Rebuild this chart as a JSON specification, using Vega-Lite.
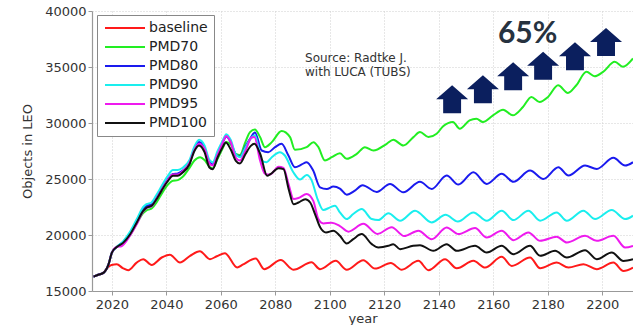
{
  "$schema": "https://vega.github.io/schema/vega-lite/v6.json",
  "width": 541,
  "height": 280,
  "autosize": {"type": "none"},
  "padding": {"left": 92, "top": 11, "right": 0, "bottom": 34},
  "background": "white",
  "config": {
    "view": {"stroke": null},
    "font": "DejaVu Sans",
    "axis": {
      "labelFont": "DejaVu Sans", "labelFontSize": 13, "labelColor": "#333",
      "titleFont": "DejaVu Sans", "titleFontSize": 13, "titleFontWeight": "normal", "titleColor": "#333",
      "domainColor": "#999", "domainWidth": 1.2, "tickColor": "#999", "tickSize": 4,
      "gridColor": "#cfcfcf", "gridDash": [1, 2], "gridWidth": 1
    }
  },
  "datasets": {
    "series": [
      {"s":"baseline","year":2013.3,"v":16280},{"s":"baseline","year":2015.0,"v":16450},{"s":"baseline","year":2017.0,"v":16640},{"s":"baseline","year":2018.3,"v":17050},{"s":"baseline","year":2019.9,"v":17330},{"s":"baseline","year":2021.8,"v":17380},{"s":"baseline","year":2024.0,"v":17050},{"s":"baseline","year":2026.0,"v":16860},{"s":"baseline","year":2029.1,"v":17540},{"s":"baseline","year":2031.5,"v":17840},{"s":"baseline","year":2034.6,"v":17330},{"s":"baseline","year":2038.3,"v":17990},{"s":"baseline","year":2041.3,"v":18230},{"s":"baseline","year":2045.0,"v":17540},{"s":"baseline","year":2048.7,"v":18140},{"s":"baseline","year":2052.3,"v":18550},{"s":"baseline","year":2056.0,"v":17840},{"s":"baseline","year":2058.5,"v":18100},{"s":"baseline","year":2061.5,"v":18380},{"s":"baseline","year":2066.0,"v":17100},{"s":"baseline","year":2068.0,"v":17350},{"s":"baseline","year":2072.8,"v":17900},{"s":"baseline","year":2075.9,"v":16950},{"s":"baseline","year":2082.0,"v":17760},{"s":"baseline","year":2086.6,"v":16900},{"s":"baseline","year":2093.3,"v":17560},{"s":"baseline","year":2096.4,"v":16950},{"s":"baseline","year":2102.2,"v":17690},{"s":"baseline","year":2106.2,"v":16900},{"s":"baseline","year":2112.3,"v":17750},{"s":"baseline","year":2116.6,"v":17000},{"s":"baseline","year":2122.4,"v":17500},{"s":"baseline","year":2126.4,"v":16900},{"s":"baseline","year":2132.5,"v":17690},{"s":"baseline","year":2136.2,"v":16860},{"s":"baseline","year":2142.3,"v":17840},{"s":"baseline","year":2146.6,"v":17030},{"s":"baseline","year":2152.7,"v":17690},{"s":"baseline","year":2157.0,"v":17090},{"s":"baseline","year":2163.1,"v":18050},{"s":"baseline","year":2166.8,"v":17240},{"s":"baseline","year":2173.5,"v":17990},{"s":"baseline","year":2177.2,"v":17030},{"s":"baseline","year":2183.3,"v":17540},{"s":"baseline","year":2187.6,"v":17090},{"s":"baseline","year":2193.1,"v":17390},{"s":"baseline","year":2198.0,"v":16950},{"s":"baseline","year":2204.1,"v":17540},{"s":"baseline","year":2207.8,"v":16790},{"s":"baseline","year":2211.3,"v":17090},

      {"s":"PMD70","year":2013.3,"v":16280},{"s":"PMD70","year":2015.0,"v":16450},{"s":"PMD70","year":2017.0,"v":16640},{"s":"PMD70","year":2018.8,"v":17400},{"s":"PMD70","year":2020.0,"v":18430},{"s":"PMD70","year":2021.8,"v":18930},{"s":"PMD70","year":2024.2,"v":19300},{"s":"PMD70","year":2026.7,"v":20000},{"s":"PMD70","year":2029.1,"v":21000},{"s":"PMD70","year":2031.5,"v":21950},{"s":"PMD70","year":2032.7,"v":22200},{"s":"PMD70","year":2034.5,"v":22350},{"s":"PMD70","year":2036.4,"v":22900},{"s":"PMD70","year":2038.2,"v":23650},{"s":"PMD70","year":2040.6,"v":24500},{"s":"PMD70","year":2042.4,"v":24850},{"s":"PMD70","year":2044.2,"v":24900},{"s":"PMD70","year":2046.0,"v":25200},{"s":"PMD70","year":2048.5,"v":26000},{"s":"PMD70","year":2050.3,"v":26650},{"s":"PMD70","year":2052.4,"v":26950},{"s":"PMD70","year":2054.0,"v":26700},{"s":"PMD70","year":2055.8,"v":26100},{"s":"PMD70","year":2057.0,"v":25950},{"s":"PMD70","year":2058.8,"v":26800},{"s":"PMD70","year":2060.6,"v":27700},{"s":"PMD70","year":2062.0,"v":28300},{"s":"PMD70","year":2063.6,"v":28100},{"s":"PMD70","year":2065.5,"v":27250},{"s":"PMD70","year":2067.0,"v":27150},{"s":"PMD70","year":2069.0,"v":28300},{"s":"PMD70","year":2070.7,"v":29190},{"s":"PMD70","year":2072.5,"v":29420},{"s":"PMD70","year":2074.4,"v":28740},{"s":"PMD70","year":2076.2,"v":27844},{"s":"PMD70","year":2078.7,"v":28292},{"s":"PMD70","year":2082.3,"v":29278},{"s":"PMD70","year":2085.4,"v":28740},{"s":"PMD70","year":2087.2,"v":27605},{"s":"PMD70","year":2091.5,"v":27844},{"s":"PMD70","year":2094.0,"v":28292},{"s":"PMD70","year":2095.8,"v":27844},{"s":"PMD70","year":2098.2,"v":26650},{"s":"PMD70","year":2100.7,"v":26948},{"s":"PMD70","year":2103.7,"v":27307},{"s":"PMD70","year":2106.2,"v":26799},{"s":"PMD70","year":2109.9,"v":27247},{"s":"PMD70","year":2112.9,"v":27844},{"s":"PMD70","year":2116.0,"v":27545},{"s":"PMD70","year":2120.9,"v":28143},{"s":"PMD70","year":2123.3,"v":28501},{"s":"PMD70","year":2127.0,"v":27994},{"s":"PMD70","year":2130.7,"v":28740},{"s":"PMD70","year":2133.1,"v":29188},{"s":"PMD70","year":2136.2,"v":28740},{"s":"PMD70","year":2139.2,"v":29039},{"s":"PMD70","year":2141.6,"v":29700},{"s":"PMD70","year":2145.2,"v":30084},{"s":"PMD70","year":2147.7,"v":29487},{"s":"PMD70","year":2151.3,"v":30233},{"s":"PMD70","year":2153.8,"v":30383},{"s":"PMD70","year":2156.2,"v":30084},{"s":"PMD70","year":2159.9,"v":30681},{"s":"PMD70","year":2163.6,"v":31189},{"s":"PMD70","year":2167.2,"v":30681},{"s":"PMD70","year":2170.9,"v":31428},{"s":"PMD70","year":2174.0,"v":32324},{"s":"PMD70","year":2177.0,"v":31876},{"s":"PMD70","year":2180.1,"v":32324},{"s":"PMD70","year":2183.8,"v":33370},{"s":"PMD70","year":2187.4,"v":32683},{"s":"PMD70","year":2190.5,"v":33370},{"s":"PMD70","year":2194.2,"v":34565},{"s":"PMD70","year":2197.2,"v":34176},{"s":"PMD70","year":2200.3,"v":34565},{"s":"PMD70","year":2204.6,"v":35460},{"s":"PMD70","year":2207.6,"v":35013},{"s":"PMD70","year":2211.3,"v":35759},

      {"s":"PMD80","year":2013.3,"v":16280},{"s":"PMD80","year":2015.0,"v":16450},{"s":"PMD80","year":2017.0,"v":16640},{"s":"PMD80","year":2018.8,"v":17400},{"s":"PMD80","year":2020.0,"v":18430},{"s":"PMD80","year":2021.8,"v":18930},{"s":"PMD80","year":2024.2,"v":19400},{"s":"PMD80","year":2026.7,"v":20150},{"s":"PMD80","year":2029.1,"v":21250},{"s":"PMD80","year":2031.5,"v":22350},{"s":"PMD80","year":2032.7,"v":22600},{"s":"PMD80","year":2034.5,"v":22700},{"s":"PMD80","year":2036.4,"v":23400},{"s":"PMD80","year":2038.2,"v":24100},{"s":"PMD80","year":2040.6,"v":25000},{"s":"PMD80","year":2042.4,"v":25450},{"s":"PMD80","year":2044.2,"v":25500},{"s":"PMD80","year":2046.0,"v":25750},{"s":"PMD80","year":2048.5,"v":26450},{"s":"PMD80","year":2050.3,"v":27700},{"s":"PMD80","year":2052.0,"v":28300},{"s":"PMD80","year":2054.0,"v":27800},{"s":"PMD80","year":2055.8,"v":26500},{"s":"PMD80","year":2057.0,"v":26300},{"s":"PMD80","year":2058.8,"v":27300},{"s":"PMD80","year":2060.6,"v":28200},{"s":"PMD80","year":2062.0,"v":28800},{"s":"PMD80","year":2063.6,"v":28300},{"s":"PMD80","year":2065.5,"v":27200},{"s":"PMD80","year":2067.0,"v":27000},{"s":"PMD80","year":2069.0,"v":27900},{"s":"PMD80","year":2071.0,"v":28700},{"s":"PMD80","year":2072.5,"v":29150},{"s":"PMD80","year":2075.0,"v":27545},{"s":"PMD80","year":2077.4,"v":27396},{"s":"PMD80","year":2079.9,"v":27844},{"s":"PMD80","year":2082.3,"v":28143},{"s":"PMD80","year":2084.8,"v":27097},{"s":"PMD80","year":2087.2,"v":26052},{"s":"PMD80","year":2089.7,"v":26300},{"s":"PMD80","year":2091.5,"v":26500},{"s":"PMD80","year":2093.9,"v":25754},{"s":"PMD80","year":2096.4,"v":24260},{"s":"PMD80","year":2098.9,"v":24111},{"s":"PMD80","year":2101.3,"v":24320},{"s":"PMD80","year":2103.7,"v":24150},{"s":"PMD80","year":2106.2,"v":23603},{"s":"PMD80","year":2109.2,"v":23962},{"s":"PMD80","year":2112.0,"v":24450},{"s":"PMD80","year":2117.2,"v":23850},{"s":"PMD80","year":2122.1,"v":24562},{"s":"PMD80","year":2127.0,"v":23810},{"s":"PMD80","year":2133.1,"v":24750},{"s":"PMD80","year":2137.4,"v":24110},{"s":"PMD80","year":2142.9,"v":25306},{"s":"PMD80","year":2147.2,"v":24500},{"s":"PMD80","year":2152.7,"v":25600},{"s":"PMD80","year":2157.6,"v":24562},{"s":"PMD80","year":2163.1,"v":25460},{"s":"PMD80","year":2167.4,"v":24750},{"s":"PMD80","year":2173.5,"v":25754},{"s":"PMD80","year":2178.4,"v":25007},{"s":"PMD80","year":2183.9,"v":26052},{"s":"PMD80","year":2187.6,"v":25306},{"s":"PMD80","year":2193.7,"v":26202},{"s":"PMD80","year":2198.0,"v":25903},{"s":"PMD80","year":2204.1,"v":26889},{"s":"PMD80","year":2208.4,"v":26202},{"s":"PMD80","year":2211.3,"v":26500},

      {"s":"PMD90","year":2013.3,"v":16280},{"s":"PMD90","year":2015.0,"v":16450},{"s":"PMD90","year":2017.0,"v":16640},{"s":"PMD90","year":2018.8,"v":17400},{"s":"PMD90","year":2020.0,"v":18430},{"s":"PMD90","year":2021.8,"v":18930},{"s":"PMD90","year":2024.2,"v":19450},{"s":"PMD90","year":2026.7,"v":20300},{"s":"PMD90","year":2029.1,"v":21400},{"s":"PMD90","year":2031.5,"v":22500},{"s":"PMD90","year":2032.7,"v":22750},{"s":"PMD90","year":2034.5,"v":22900},{"s":"PMD90","year":2036.4,"v":23600},{"s":"PMD90","year":2038.2,"v":24350},{"s":"PMD90","year":2040.6,"v":25300},{"s":"PMD90","year":2042.4,"v":25800},{"s":"PMD90","year":2044.2,"v":25800},{"s":"PMD90","year":2046.0,"v":26000},{"s":"PMD90","year":2048.5,"v":26700},{"s":"PMD90","year":2050.3,"v":27900},{"s":"PMD90","year":2052.0,"v":28500},{"s":"PMD90","year":2054.0,"v":28000},{"s":"PMD90","year":2055.8,"v":26700},{"s":"PMD90","year":2057.0,"v":26500},{"s":"PMD90","year":2058.8,"v":27500},{"s":"PMD90","year":2060.6,"v":28400},{"s":"PMD90","year":2062.0,"v":29000},{"s":"PMD90","year":2063.6,"v":28500},{"s":"PMD90","year":2065.5,"v":27200},{"s":"PMD90","year":2067.0,"v":26950},{"s":"PMD90","year":2069.0,"v":27800},{"s":"PMD90","year":2071.0,"v":28600},{"s":"PMD90","year":2072.5,"v":28900},{"s":"PMD90","year":2075.0,"v":26650},{"s":"PMD90","year":2076.8,"v":26500},{"s":"PMD90","year":2078.7,"v":26948},{"s":"PMD90","year":2081.7,"v":27396},{"s":"PMD90","year":2083.5,"v":27097},{"s":"PMD90","year":2086.6,"v":25604},{"s":"PMD90","year":2089.1,"v":24950},{"s":"PMD90","year":2091.5,"v":25350},{"s":"PMD90","year":2093.3,"v":24900},{"s":"PMD90","year":2095.5,"v":23200},{"s":"PMD90","year":2097.6,"v":22229},{"s":"PMD90","year":2100.1,"v":22468},{"s":"PMD90","year":2101.9,"v":22617},{"s":"PMD90","year":2103.7,"v":22020},{"s":"PMD90","year":2106.2,"v":21423},{"s":"PMD90","year":2108.6,"v":21871},{"s":"PMD90","year":2111.7,"v":22319},{"s":"PMD90","year":2115.4,"v":21423},{"s":"PMD90","year":2117.8,"v":21333},{"s":"PMD90","year":2121.5,"v":21931},{"s":"PMD90","year":2125.8,"v":21273},{"s":"PMD90","year":2131.3,"v":22170},{"s":"PMD90","year":2137.4,"v":21124},{"s":"PMD90","year":2142.5,"v":21800},{"s":"PMD90","year":2147.0,"v":21200},{"s":"PMD90","year":2152.7,"v":22020},{"s":"PMD90","year":2157.6,"v":21273},{"s":"PMD90","year":2163.1,"v":22170},{"s":"PMD90","year":2167.4,"v":21333},{"s":"PMD90","year":2172.9,"v":22170},{"s":"PMD90","year":2177.2,"v":21273},{"s":"PMD90","year":2183.3,"v":22020},{"s":"PMD90","year":2187.0,"v":21273},{"s":"PMD90","year":2193.1,"v":22170},{"s":"PMD90","year":2197.4,"v":21423},{"s":"PMD90","year":2203.5,"v":22229},{"s":"PMD90","year":2208.4,"v":21423},{"s":"PMD90","year":2211.3,"v":21722},

      {"s":"PMD95","year":2013.3,"v":16280},{"s":"PMD95","year":2015.0,"v":16450},{"s":"PMD95","year":2017.0,"v":16640},{"s":"PMD95","year":2018.8,"v":17400},{"s":"PMD95","year":2020.0,"v":18430},{"s":"PMD95","year":2021.8,"v":18930},{"s":"PMD95","year":2023.5,"v":19000},{"s":"PMD95","year":2026.0,"v":19700},{"s":"PMD95","year":2029.1,"v":20950},{"s":"PMD95","year":2031.5,"v":22100},{"s":"PMD95","year":2032.7,"v":22400},{"s":"PMD95","year":2034.5,"v":22550},{"s":"PMD95","year":2036.4,"v":23250},{"s":"PMD95","year":2038.2,"v":24000},{"s":"PMD95","year":2040.6,"v":24950},{"s":"PMD95","year":2042.4,"v":25400},{"s":"PMD95","year":2044.2,"v":25400},{"s":"PMD95","year":2046.0,"v":25700},{"s":"PMD95","year":2048.5,"v":26450},{"s":"PMD95","year":2050.3,"v":27600},{"s":"PMD95","year":2052.0,"v":28150},{"s":"PMD95","year":2054.0,"v":27700},{"s":"PMD95","year":2055.8,"v":26400},{"s":"PMD95","year":2057.0,"v":26200},{"s":"PMD95","year":2058.8,"v":27200},{"s":"PMD95","year":2060.6,"v":28200},{"s":"PMD95","year":2062.0,"v":28850},{"s":"PMD95","year":2063.6,"v":28300},{"s":"PMD95","year":2065.5,"v":26900},{"s":"PMD95","year":2067.0,"v":26650},{"s":"PMD95","year":2069.0,"v":27500},{"s":"PMD95","year":2071.3,"v":28700},{"s":"PMD95","year":2072.3,"v":28740},{"s":"PMD95","year":2074.4,"v":26650},{"s":"PMD95","year":2076.2,"v":25460},{"s":"PMD95","year":2078.0,"v":25400},{"s":"PMD95","year":2081.2,"v":26100},{"s":"PMD95","year":2083.0,"v":26000},{"s":"PMD95","year":2084.9,"v":24500},{"s":"PMD95","year":2086.7,"v":23220},{"s":"PMD95","year":2088.5,"v":23300},{"s":"PMD95","year":2091.5,"v":23663},{"s":"PMD95","year":2093.9,"v":23066},{"s":"PMD95","year":2095.8,"v":21423},{"s":"PMD95","year":2097.6,"v":21035},{"s":"PMD95","year":2100.7,"v":21100},{"s":"PMD95","year":2103.7,"v":20800},{"s":"PMD95","year":2106.8,"v":20300},{"s":"PMD95","year":2112.3,"v":21000},{"s":"PMD95","year":2117.5,"v":20100},{"s":"PMD95","year":2122.7,"v":20700},{"s":"PMD95","year":2127.3,"v":19900},{"s":"PMD95","year":2132.5,"v":20377},{"s":"PMD95","year":2137.4,"v":19630},{"s":"PMD95","year":2142.9,"v":20676},{"s":"PMD95","year":2147.2,"v":20079},{"s":"PMD95","year":2153.3,"v":20617},{"s":"PMD95","year":2157.6,"v":19780},{"s":"PMD95","year":2163.1,"v":20377},{"s":"PMD95","year":2167.4,"v":19541},{"s":"PMD95","year":2172.9,"v":20228},{"s":"PMD95","year":2177.2,"v":19481},{"s":"PMD95","year":2183.3,"v":19840},{"s":"PMD95","year":2187.0,"v":19332},{"s":"PMD95","year":2193.7,"v":19929},{"s":"PMD95","year":2198.0,"v":19481},{"s":"PMD95","year":2204.1,"v":19929},{"s":"PMD95","year":2208.4,"v":18884},{"s":"PMD95","year":2211.3,"v":19033},

      {"s":"PMD100","year":2013.3,"v":16280},{"s":"PMD100","year":2015.0,"v":16450},{"s":"PMD100","year":2017.0,"v":16640},{"s":"PMD100","year":2018.8,"v":17400},{"s":"PMD100","year":2020.0,"v":18430},{"s":"PMD100","year":2021.8,"v":18930},{"s":"PMD100","year":2024.2,"v":19320},{"s":"PMD100","year":2026.7,"v":20070},{"s":"PMD100","year":2029.1,"v":21100},{"s":"PMD100","year":2031.5,"v":22150},{"s":"PMD100","year":2032.7,"v":22450},{"s":"PMD100","year":2034.5,"v":22600},{"s":"PMD100","year":2036.4,"v":23200},{"s":"PMD100","year":2038.2,"v":23940},{"s":"PMD100","year":2040.6,"v":24830},{"s":"PMD100","year":2042.4,"v":25280},{"s":"PMD100","year":2044.2,"v":25280},{"s":"PMD100","year":2046.0,"v":25580},{"s":"PMD100","year":2048.5,"v":26320},{"s":"PMD100","year":2050.3,"v":27500},{"s":"PMD100","year":2052.0,"v":28000},{"s":"PMD100","year":2054.0,"v":27400},{"s":"PMD100","year":2055.8,"v":26030},{"s":"PMD100","year":2057.0,"v":25880},{"s":"PMD100","year":2058.8,"v":26920},{"s":"PMD100","year":2060.6,"v":27810},{"s":"PMD100","year":2061.8,"v":28250},{"s":"PMD100","year":2063.6,"v":27650},{"s":"PMD100","year":2065.5,"v":26620},{"s":"PMD100","year":2067.0,"v":26380},{"s":"PMD100","year":2069.0,"v":27210},{"s":"PMD100","year":2071.0,"v":27960},{"s":"PMD100","year":2072.3,"v":28150},{"s":"PMD100","year":2074.5,"v":27210},{"s":"PMD100","year":2077.0,"v":25280},{"s":"PMD100","year":2078.2,"v":25430},{"s":"PMD100","year":2081.2,"v":25960},{"s":"PMD100","year":2083.0,"v":25880},{"s":"PMD100","year":2084.9,"v":24090},{"s":"PMD100","year":2086.7,"v":22750},{"s":"PMD100","year":2088.5,"v":22900},{"s":"PMD100","year":2091.0,"v":23200},{"s":"PMD100","year":2092.8,"v":22900},{"s":"PMD100","year":2094.6,"v":21850},{"s":"PMD100","year":2096.5,"v":20660},{"s":"PMD100","year":2098.6,"v":20220},{"s":"PMD100","year":2101.3,"v":20377},{"s":"PMD100","year":2103.7,"v":19930},{"s":"PMD100","year":2106.2,"v":19242},{"s":"PMD100","year":2108.6,"v":19630},{"s":"PMD100","year":2111.7,"v":20080},{"s":"PMD100","year":2115.4,"v":19182},{"s":"PMD100","year":2117.8,"v":18884},{"s":"PMD100","year":2121.5,"v":19033},{"s":"PMD100","year":2123.3,"v":19182},{"s":"PMD100","year":2125.8,"v":18734},{"s":"PMD100","year":2130.6,"v":19033},{"s":"PMD100","year":2133.1,"v":19093},{"s":"PMD100","year":2138.0,"v":18585},{"s":"PMD100","year":2142.9,"v":19182},{"s":"PMD100","year":2146.6,"v":18585},{"s":"PMD100","year":2153.3,"v":19033},{"s":"PMD100","year":2157.6,"v":18436},{"s":"PMD100","year":2163.1,"v":19033},{"s":"PMD100","year":2167.4,"v":18286},{"s":"PMD100","year":2173.5,"v":19033},{"s":"PMD100","year":2177.2,"v":18137},{"s":"PMD100","year":2182.7,"v":18585},{"s":"PMD100","year":2187.0,"v":17987},{"s":"PMD100","year":2193.7,"v":18645},{"s":"PMD100","year":2198.0,"v":17838},{"s":"PMD100","year":2203.5,"v":18436},{"s":"PMD100","year":2207.8,"v":17689},{"s":"PMD100","year":2211.3,"v":17838}
    ],
    "arrows": [
      {"year":2144.9,"v":32115},{"year":2156.2,"v":33011},{"year":2167.3,"v":34176},
      {"year":2178.3,"v":35117},{"year":2190.0,"v":35968},{"year":2201.4,"v":37222}
    ],
    "notes": [
      {"year":2090.9,"v":35789,"label":"Source: Radtke J."},
      {"year":2090.9,"v":34534,"label":"with LUCA (TUBS)"}
    ],
    "big": [
      {"year":2172.6,"v":37939,"label":"65%"}
    ]
  },
  "encoding": {
    "x": {
      "field": "year", "type": "quantitative",
      "scale": {"domain": [2012.7, 2211.3], "nice": false, "zero": false},
      "axis": {"title": "year", "values": [2020,2040,2060,2080,2100,2120,2140,2160,2180,2200], "format": "d", "labelPadding": 3, "titlePadding": 1}
    },
    "y": {
      "field": "v", "type": "quantitative",
      "scale": {"domain": [15000, 40000], "nice": false, "zero": false},
      "axis": {"title": "Objects in LEO", "values": [15000,20000,25000,30000,35000,40000], "format": "d", "labelPadding": 2, "titlePadding": 10}
    }
  },
  "layer": [
    {
      "data": {"name": "series"},
      "mark": {"type": "line", "strokeWidth": 2, "interpolate": "monotone"},
      "encoding": {
        "color": {
          "field": "s", "type": "nominal",
          "scale": {"domain": ["baseline","PMD70","PMD80","PMD90","PMD95","PMD100"],
                    "range": ["#ff1a1a","#22ee22","#1a1aee","#1aeeee","#ee1aee","#111111"]},
          "legend": {
            "title": null, "orient": "none", "legendX": 5, "legendY": 4,
            "symbolType": "M-4,0H4", "symbolSize": 100, "symbolStrokeWidth": 2,
            "symbolOffset": 15, "labelOffset": 17,
            "labelFont": "DejaVu Sans", "labelFontSize": 14, "labelColor": "#222",
            "padding": 6, "rowPadding": 5,
            "strokeColor": "#888", "fillColor": "white", "cornerRadius": 0
          }
        }
      }
    },
    {
      "data": {"name": "arrows"},
      "mark": {"type": "point", "filled": true, "opacity": 1, "size": 1024, "strokeWidth": 0,
               "color": "#0b1f5e",
               "shape": "M0,-0.875L1,0L0.56,0L0.56,0.875L-0.56,0.875L-0.56,0L-1,0Z"}
    },
    {
      "data": {"name": "notes"},
      "mark": {"type": "text", "align": "left", "baseline": "middle", "font": "DejaVu Sans", "fontSize": 12, "color": "#333"},
      "encoding": {"text": {"field": "label"}}
    },
    {
      "data": {"name": "big"},
      "mark": {"type": "text", "align": "center", "baseline": "middle", "font": "Lato", "fontWeight": "bold", "fontSize": 30, "color": "#26323f"},
      "encoding": {"text": {"field": "label"}}
    }
  ]
}
